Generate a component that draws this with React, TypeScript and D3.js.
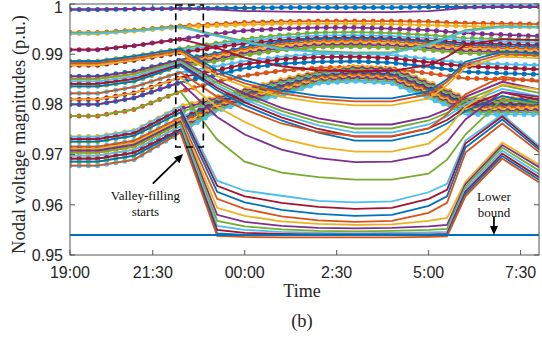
import React from 'react';
import * as d3 from 'd3';

// time index of each vertex (15-min steps, 1 = 19:00)
const knots = [1, 4, 8, 13, 17, 20, 24, 28, 32, 36, 40, 42, 44, 48, 52];

// shared values before valley-filling starts (knots 1, 4, 8, 13), one row per node
const preValues = [
  [0.9989, 0.9989, 0.999, 0.9991],
  [0.9943, 0.9943, 0.9948, 0.9956],
  [0.9941, 0.9941, 0.9946, 0.9954],
  [0.9909, 0.9909, 0.9917, 0.993],
  [0.9886, 0.9886, 0.9896, 0.9911],
  [0.9882, 0.9882, 0.9892, 0.9907],
  [0.9878, 0.9878, 0.9888, 0.9903],
  [0.9856, 0.9856, 0.9866, 0.9889],
  [0.9851, 0.9851, 0.9861, 0.9886],
  [0.9846, 0.9846, 0.9856, 0.9883],
  [0.9841, 0.9841, 0.9851, 0.988],
  [0.9836, 0.9836, 0.9846, 0.9877],
  [0.9822, 0.9822, 0.9835, 0.9864],
  [0.981, 0.981, 0.9823, 0.9854],
  [0.98, 0.98, 0.9813, 0.9844],
  [0.9777, 0.9777, 0.979, 0.9826],
  [0.9736, 0.9736, 0.9748, 0.9796],
  [0.9731, 0.9731, 0.9743, 0.979],
  [0.9726, 0.9726, 0.9738, 0.9784],
  [0.9716, 0.9716, 0.9728, 0.9774],
  [0.9712, 0.9712, 0.9724, 0.977],
  [0.9708, 0.9708, 0.972, 0.9766],
  [0.9704, 0.9704, 0.9716, 0.9762],
  [0.9698, 0.9698, 0.971, 0.9756],
  [0.9692, 0.9692, 0.9704, 0.975],
  [0.9686, 0.9686, 0.9698, 0.9747],
  [0.9678, 0.9678, 0.969, 0.9744],
];

// without valley-filling (knots 17 .. 52)
const baseValues = [
  [0.9992, 0.9992, 0.9993, 0.9993, 0.9993, 0.9993, 0.9994, 0.9994, 0.9994, 0.9995, 0.9995],
  [0.996, 0.9963, 0.9965, 0.9966, 0.9966, 0.9966, 0.9965, 0.9963, 0.9962, 0.9961, 0.996],
  [0.9957, 0.9959, 0.9961, 0.9961, 0.9961, 0.996, 0.9958, 0.9957, 0.9956, 0.9955, 0.9954],
  [0.9941, 0.9947, 0.9951, 0.9953, 0.9953, 0.9951, 0.9948, 0.9945, 0.9942, 0.9939, 0.9936],
  [0.9922, 0.993, 0.9938, 0.9943, 0.9944, 0.9942, 0.9938, 0.9935, 0.9932, 0.993, 0.9928],
  [0.9918, 0.9926, 0.9933, 0.9937, 0.9938, 0.9936, 0.9932, 0.993, 0.9927, 0.9925, 0.9923],
  [0.9914, 0.9921, 0.9928, 0.9932, 0.9933, 0.9931, 0.9927, 0.9925, 0.9922, 0.992, 0.9918],
  [0.9902, 0.9914, 0.9924, 0.993, 0.9931, 0.9929, 0.9924, 0.9921, 0.9918, 0.9916, 0.9914],
  [0.9898, 0.991, 0.992, 0.9926, 0.9927, 0.9925, 0.992, 0.9917, 0.9914, 0.9912, 0.991],
  [0.9894, 0.9906, 0.9916, 0.9922, 0.9923, 0.9921, 0.9916, 0.9913, 0.991, 0.9908, 0.9906],
  [0.989, 0.9902, 0.9912, 0.9918, 0.9919, 0.9917, 0.9912, 0.9909, 0.9906, 0.9904, 0.9902],
  [0.9886, 0.9898, 0.9908, 0.9914, 0.9915, 0.9913, 0.9908, 0.9905, 0.9902, 0.99, 0.9898],
  [0.9876, 0.9886, 0.9895, 0.99, 0.9901, 0.9898, 0.989, 0.9886, 0.9882, 0.988, 0.9878],
  [0.9868, 0.988, 0.989, 0.9894, 0.9895, 0.9892, 0.9884, 0.988, 0.9876, 0.9873, 0.987],
  [0.986, 0.9872, 0.9881, 0.9885, 0.9886, 0.9883, 0.9875, 0.987, 0.9865, 0.9862, 0.986],
  [0.9845, 0.9857, 0.9867, 0.9873, 0.9874, 0.9871, 0.9862, 0.9857, 0.9852, 0.985, 0.9848],
  [0.9815, 0.983, 0.985, 0.9866, 0.9876, 0.9872, 0.9845, 0.983, 0.9812, 0.9812, 0.9815],
  [0.9812, 0.9827, 0.9846, 0.9863, 0.9872, 0.9869, 0.9841, 0.9826, 0.9808, 0.9808, 0.9811],
  [0.9809, 0.9824, 0.9843, 0.9861, 0.9869, 0.9865, 0.9838, 0.9823, 0.9805, 0.9805, 0.9807],
  [0.9806, 0.9821, 0.9839, 0.9858, 0.9865, 0.9862, 0.9834, 0.9819, 0.9801, 0.9801, 0.9803],
  [0.9804, 0.982, 0.9837, 0.9856, 0.9863, 0.986, 0.9832, 0.9818, 0.98, 0.98, 0.9801],
  [0.9802, 0.9818, 0.9835, 0.9855, 0.9861, 0.9858, 0.9829, 0.9815, 0.9797, 0.9797, 0.9798],
  [0.9799, 0.9816, 0.9832, 0.9853, 0.9859, 0.9855, 0.9827, 0.9812, 0.9794, 0.9794, 0.9796],
  [0.9796, 0.9813, 0.9829, 0.985, 0.9856, 0.9852, 0.9823, 0.9809, 0.9791, 0.9791, 0.9792],
  [0.9793, 0.981, 0.9825, 0.9847, 0.9853, 0.9849, 0.9819, 0.9805, 0.9787, 0.9787, 0.9788],
  [0.979, 0.9807, 0.9822, 0.9845, 0.9849, 0.9845, 0.9816, 0.9802, 0.9784, 0.9784, 0.9784],
  [0.9787, 0.9804, 0.9818, 0.9842, 0.9846, 0.9842, 0.9812, 0.9798, 0.978, 0.978, 0.978],
];

// with valley-filling (knots 17 .. 52)
const vfValues = [
  [0.9989, 0.9986, 0.9985, 0.9984, 0.9984, 0.9984, 0.9986, 0.9989, 0.9993, 0.9994, 0.9994],
  [0.9938, 0.9926, 0.9912, 0.9906, 0.9903, 0.9904, 0.992, 0.9934, 0.9948, 0.9956, 0.9955],
  [0.9936, 0.9924, 0.991, 0.9904, 0.9901, 0.9902, 0.9918, 0.9932, 0.9946, 0.9954, 0.9953],
  [0.9912, 0.9893, 0.9876, 0.9868, 0.9866, 0.9867, 0.9878, 0.9895, 0.9918, 0.993, 0.9928],
  [0.9868, 0.9848, 0.9828, 0.9817, 0.9812, 0.9812, 0.9826, 0.985, 0.9885, 0.9905, 0.9902],
  [0.9862, 0.9842, 0.9822, 0.9811, 0.9806, 0.9806, 0.982, 0.9845, 0.988, 0.99, 0.9897],
  [0.9856, 0.9836, 0.9815, 0.9804, 0.9798, 0.9798, 0.9812, 0.9838, 0.9874, 0.9895, 0.9892],
  [0.9848, 0.9822, 0.9793, 0.9772, 0.976, 0.976, 0.9775, 0.979, 0.9815, 0.9845, 0.983],
  [0.9843, 0.9816, 0.9787, 0.9765, 0.9752, 0.9752, 0.9768, 0.9783, 0.9808, 0.9838, 0.9823],
  [0.9838, 0.981, 0.978, 0.9758, 0.9744, 0.9744, 0.976, 0.9776, 0.9801, 0.9831, 0.9816],
  [0.9833, 0.9804, 0.9774, 0.9751, 0.9736, 0.9736, 0.9752, 0.9769, 0.9794, 0.9824, 0.9809],
  [0.9828, 0.9798, 0.9768, 0.9744, 0.9728, 0.9728, 0.9744, 0.9762, 0.9787, 0.9817, 0.9802],
  [0.9815, 0.979, 0.9762, 0.9745, 0.9737, 0.9737, 0.9752, 0.978, 0.982, 0.9855, 0.9845],
  [0.9795, 0.9765, 0.9732, 0.9715, 0.9706, 0.9706, 0.9722, 0.975, 0.9795, 0.984, 0.983],
  [0.9775, 0.974, 0.971, 0.9693, 0.9685, 0.9686, 0.97, 0.9725, 0.977, 0.9825, 0.9815],
  [0.973, 0.9686, 0.9664, 0.9655, 0.965, 0.965, 0.9662, 0.969, 0.974, 0.981, 0.98],
  [0.9648, 0.9628, 0.9618, 0.9608, 0.9605, 0.9607, 0.9625, 0.9642, 0.9728, 0.978, 0.9718],
  [0.9638, 0.9617, 0.9604, 0.9596, 0.9592, 0.9594, 0.9612, 0.963, 0.9722, 0.9776, 0.9714],
  [0.9626, 0.9605, 0.959, 0.9582, 0.9578, 0.958, 0.9598, 0.9617, 0.9714, 0.977, 0.971],
  [0.9612, 0.9592, 0.9577, 0.9569, 0.9566, 0.9568, 0.9584, 0.9604, 0.9704, 0.9762, 0.9705],
  [0.9594, 0.9578, 0.9567, 0.9562, 0.956, 0.9561, 0.9568, 0.9574, 0.9646, 0.9724, 0.968],
  [0.958, 0.9566, 0.9558, 0.9554, 0.9553, 0.9554, 0.9557, 0.956, 0.9641, 0.9719, 0.9675],
  [0.9568, 0.9557, 0.9551, 0.9548, 0.9547, 0.9548, 0.955, 0.9552, 0.9636, 0.9714, 0.9668],
  [0.9558, 0.955, 0.9546, 0.9544, 0.9543, 0.9544, 0.9545, 0.9546, 0.9631, 0.9708, 0.9661],
  [0.955, 0.9544, 0.9542, 0.9541, 0.9541, 0.9541, 0.9541, 0.9542, 0.9626, 0.9702, 0.9655],
  [0.9543, 0.954, 0.954, 0.954, 0.954, 0.954, 0.954, 0.954, 0.9622, 0.9697, 0.965],
  [0.9538, 0.9536, 0.9535, 0.9535, 0.9535, 0.9535, 0.9536, 0.9537, 0.9617, 0.9692, 0.9645],
];

const lowerBound = 0.954;
const xTicks = [1, 10, 20, 30, 40, 50];
const xTickLabels = ['19:00', '21:30', '00:00', '2:30', '5:00', '7:30'];
const yTicks = [0.95, 0.96, 0.97, 0.98, 0.99, 1];
const yTickLabels = ['0.95', '0.96', '0.97', '0.98', '0.99', '1'];

const colors = ['#0072BD', '#D95319', '#EDB120', '#7E2F8E', '#77AC30', '#4DBEEE', '#A2142F'];

const W = 542;
const H = 340;
const sans = '"Liberation Sans", Arial, sans-serif';
const serif = '"Liberation Serif", "Times New Roman", serif';

const App: React.FC = () => {
  const x = d3.scaleLinear().domain([1, 52]).range([70, 539]);
  const y = d3.scaleLinear().domain([0.95, 1]).range([255, 4]);
  const line = d3
    .line<[number, number]>()
    .x((d) => x(d[0]))
    .y((d) => y(d[1]));

  const series = (pre: number[], night: number[]) =>
    knots.map((k, j) => [k, j < 4 ? pre[j] : night[j - 4]] as [number, number]);

  const step = x(2) - x(1);
  const axisColor = '#555';
  const tickLen = 5;

  // annotation arrows (in data units)
  const arrow = (x1: number, y1: number, x2: number, y2: number, len: number, half: number) => {
    const px1 = x(x1), py1 = y(y1), px2 = x(x2), py2 = y(y2);
    const a = Math.atan2(py2 - py1, px2 - px1);
    const bx = px2 - len * Math.cos(a), by = py2 - len * Math.sin(a);
    const pts = [
      [px2, py2],
      [bx + half * Math.sin(a), by - half * Math.cos(a)],
      [bx - half * Math.sin(a), by + half * Math.cos(a)],
    ];
    return (
      <g>
        <line x1={px1} y1={py1} x2={bx} y2={by} stroke="#000" strokeWidth={1.7} />
        <polygon points={pts.map((p) => p.join(',')).join(' ')} fill="#000" />
      </g>
    );
  };

  return (
    <div style={{ position: 'absolute', left: 0, top: 0 }}>
      <svg width={W} height={H} style={{ display: 'block', background: '#fff' }}>
        <defs>
          <clipPath id="plot">
            <rect x={70} y={4} width={469} height={251} />
          </clipPath>
        </defs>
        <rect x={0} y={0} width={W} height={H} fill="#fff" />

        <g clipPath="url(#plot)">
          {/* without valley-filling: line with dot markers */}
          {preValues.map((pre, i) => {
            const d = line(series(pre, baseValues[i])) || '';
            const c = colors[i % 7];
            return (
              <g key={`b${i}`}>
                <path d={d} fill="none" stroke={c} strokeWidth={1.8} />
                <path
                  d={d}
                  fill="none"
                  stroke={c}
                  strokeWidth={5}
                  strokeLinecap="round"
                  strokeDasharray={`0 ${step}`}
                />
              </g>
            );
          })}
          {/* with valley-filling */}
          {preValues.map((pre, i) => (
            <path
              key={`v${i}`}
              d={line(series(pre, vfValues[i])) || ''}
              fill="none"
              stroke={colors[(i + 3) % 7]}
              strokeWidth={1.8}
            />
          ))}
          <line
            x1={x(1)}
            x2={x(52)}
            y1={y(lowerBound)}
            y2={y(lowerBound)}
            stroke="#0072BD"
            strokeWidth={2}
          />
        </g>

        {/* axes box */}
        <rect x={70} y={4} width={469} height={251} fill="none" stroke={axisColor} strokeWidth={1} />
        {xTicks.map((t, i) => (
          <g key={`xt${i}`}>
            <line x1={x(t)} x2={x(t)} y1={255} y2={255 - tickLen} stroke={axisColor} />
            <line x1={x(t)} x2={x(t)} y1={4} y2={4 + tickLen} stroke={axisColor} />
            <text
              x={x(t)}
              y={278}
              textAnchor="middle"
              fontFamily={sans}
              fontSize={16}
              fill="#262626"
            >
              {xTickLabels[i]}
            </text>
          </g>
        ))}
        {yTicks.map((t, i) => (
          <g key={`yt${i}`}>
            <line x1={70} x2={70 + tickLen} y1={y(t)} y2={y(t)} stroke={axisColor} />
            <line x1={539} x2={539 - tickLen} y1={y(t)} y2={y(t)} stroke={axisColor} />
            <text
              x={63}
              y={Math.max(y(t), 7)}
              dy="0.36em"
              textAnchor="end"
              fontFamily={sans}
              fontSize={16}
              fill="#262626"
            >
              {yTickLabels[i]}
            </text>
          </g>
        ))}

        {/* valley-filling window */}
        <rect
          x={x(12.5)}
          y={y(0.9998)}
          width={x(15.5) - x(12.5)}
          height={y(0.9715) - y(0.9998)}
          fill="none"
          stroke="#000"
          strokeWidth={1.6}
          strokeDasharray="7 5"
        />
        {arrow(10, 0.9642, 13.3, 0.9701, 9, 4)}
        <text x={x(9.2)} y={200} textAnchor="middle" fontFamily={serif} fontSize={13} fill="#111">
          Valley-filling
        </text>
        <text x={x(9.2)} y={216} textAnchor="middle" fontFamily={serif} fontSize={13} fill="#111">
          starts
        </text>
        <text x={x(47.1)} y={201} textAnchor="middle" fontFamily={serif} fontSize={13} fill="#111">
          Lower
        </text>
        <text x={x(47.1)} y={217} textAnchor="middle" fontFamily={serif} fontSize={13} fill="#111">
          bound
        </text>
        {arrow(47.1, 0.9576, 47.1, lowerBound, 9, 4)}

        <text
          transform={`translate(25,${(4 + 255) / 2 + 5}) rotate(-90)`}
          textAnchor="middle"
          fontFamily={serif}
          fontSize={18.5}
          fill="#262626"
        >
          Nodal voltage magnitudes (p.u.)
        </text>
        <text x={302} y={297} textAnchor="middle" fontFamily={serif} fontSize={18} fill="#262626">
          Time
        </text>
        <text x={302} y={327} textAnchor="middle" fontFamily={serif} fontSize={18.5} fill="#262626">
          (b)
        </text>
      </svg>
    </div>
  );
};

export default App;
